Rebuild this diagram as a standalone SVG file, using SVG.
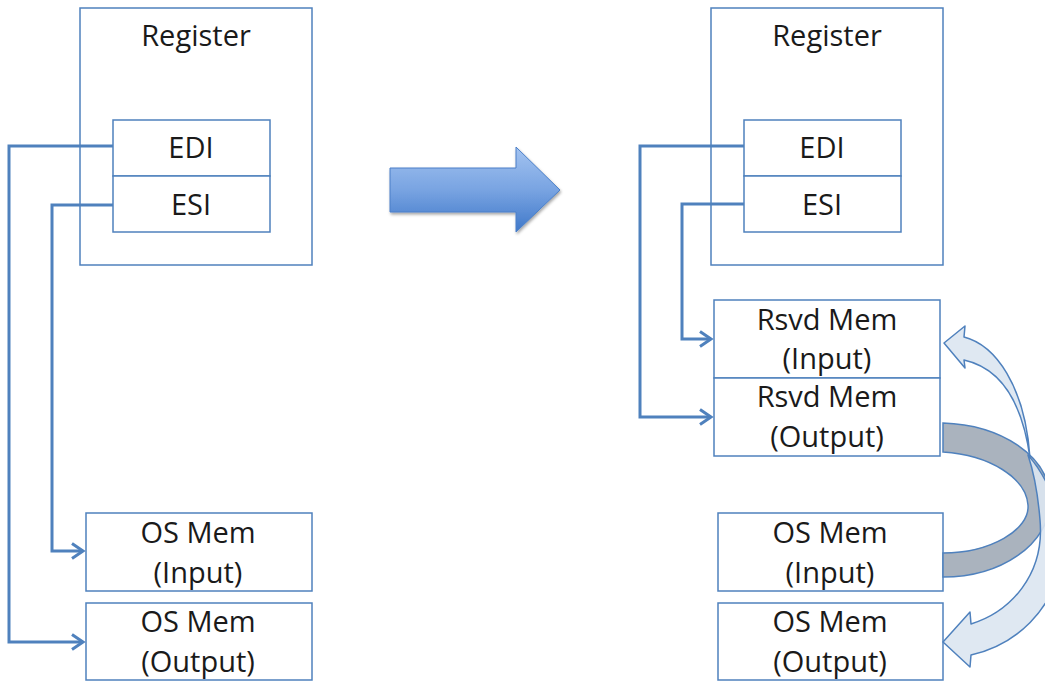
<svg xmlns="http://www.w3.org/2000/svg" width="1045" height="682" viewBox="0 0 1045 682">
  <style>
    .box { fill: #ffffff; stroke: #4f81bd; stroke-width: 1.5; }
    .lbl { font-family: "Open Sans", "Noto Sans", sans-serif; font-size: 29px; fill: #1a1a1a; text-anchor: middle; }
    .wire { fill: none; stroke: #4f81bd; stroke-width: 3; stroke-linejoin: miter; }
    .lite { fill: #dbe5f1; stroke: #4f81bd; stroke-width: 1.5; stroke-linejoin: round; }
    .grey { fill: #aab3be; stroke: #4f81bd; stroke-width: 1.5; }
  </style>
  <defs>
    <marker id="head" markerUnits="userSpaceOnUse" markerWidth="24" markerHeight="24" refX="0" refY="0" viewBox="-14 -12 16 24" orient="auto">
      <path d="M-11,-7.5 L0,0 L-11,7.5" fill="none" stroke="#4f81bd" stroke-width="3"/>
    </marker>
    <linearGradient id="bigArrowFill" x1="0" y1="0" x2="0" y2="1">
      <stop offset="0" stop-color="#a3c3f0"/>
      <stop offset="0.5" stop-color="#79a4e2"/>
      <stop offset="1" stop-color="#3f78c9"/>
    </linearGradient>
    <filter id="soft" x="-10%" y="-10%" width="130%" height="140%">
      <feDropShadow dx="1" dy="2" stdDeviation="1.6" flood-color="#000" flood-opacity="0.35"/>
    </filter>
  </defs>

  <!-- left side: before -->
  <g id="reg-left">
    <rect class="box" x="80" y="8" width="232" height="257"/>
    <text class="lbl" x="196" y="46">Register</text>
  </g>
  <g id="edi-left">
    <rect class="box" x="113" y="120" width="157" height="56"/>
    <text class="lbl" x="191" y="158">EDI</text>
  </g>
  <g id="esi-left">
    <rect class="box" x="113" y="176" width="157" height="56"/>
    <text class="lbl" x="191" y="215">ESI</text>
  </g>
  <g id="osin-left">
    <rect class="box" x="86" y="513" width="226" height="78"/>
    <text class="lbl" x="198" y="543">OS Mem</text>
    <text class="lbl" x="198" y="583">(Input)</text>
  </g>
  <g id="osout-left">
    <rect class="box" x="86" y="603" width="226" height="77"/>
    <text class="lbl" x="198" y="632">OS Mem</text>
    <text class="lbl" x="198" y="672">(Output)</text>
  </g>

  <!-- transition arrow -->
  <g id="transition">
    <path d="M390,168 H516 V147 L560,190 L516,232 V212 H390 Z" fill="url(#bigArrowFill)" stroke="#4a7fc8" stroke-width="1" filter="url(#soft)"/>
  </g>

  <!-- right side: after -->
  <g id="reg-right">
    <rect class="box" x="711" y="8" width="232" height="257"/>
    <text class="lbl" x="827" y="46">Register</text>
  </g>
  <g id="edi-right">
    <rect class="box" x="744" y="120" width="157" height="56"/>
    <text class="lbl" x="822" y="158">EDI</text>
  </g>
  <g id="esi-right">
    <rect class="box" x="744" y="176" width="157" height="56"/>
    <text class="lbl" x="822" y="215">ESI</text>
  </g>
  <g id="rsvdin">
    <rect class="box" x="714" y="300" width="226" height="78"/>
    <text class="lbl" x="827" y="330">Rsvd Mem</text>
    <text class="lbl" x="827" y="369">(Input)</text>
  </g>
  <g id="rsvdout">
    <rect class="box" x="714" y="378" width="226" height="78"/>
    <text class="lbl" x="827" y="407">Rsvd Mem</text>
    <text class="lbl" x="827" y="447">(Output)</text>
  </g>
  <g id="osin-right">
    <rect class="box" x="718" y="513" width="225" height="78"/>
    <text class="lbl" x="830" y="543">OS Mem</text>
    <text class="lbl" x="830" y="583">(Input)</text>
  </g>
  <g id="osout-right">
    <rect class="box" x="718" y="603" width="225" height="77"/>
    <text class="lbl" x="830" y="632">OS Mem</text>
    <text class="lbl" x="830" y="672">(Output)</text>
  </g>

  <!-- pointer connectors -->
  <g id="connectors">
    <path class="wire" d="M113,146 H9 V642 H83" marker-end="url(#head)"/>
    <path class="wire" d="M113,205 H52 V551 H83" marker-end="url(#head)"/>
    <path class="wire" d="M744,146 H640 V417 H711" marker-end="url(#head)"/>
    <path class="wire" d="M744,204 H682 V339 H711" marker-end="url(#head)"/>
  </g>

  <!-- copy flows between reserved and OS memory -->
  <g id="flows">
    <path class="grey" d="M943,423 C1000,425 1050,455 1050,500 C1050,545 1000,577 943,577 L943,553 C990,553 1030,530 1028,505 C1026,478 990,455 943,452 Z"/>
    <path class="lite" fill-opacity="0.9" d="M944,343 L965,326 L964,337 C995,345 1025,385 1030,458 C1022,400 1000,368 964,360 L965,368 Z"/>
    <path class="lite" fill-opacity="0.9" d="M943,642 L970,612 L971,624 C1010,612 1045,575 1040,520 C1038,495 1033,470 1028,455 C1050,480 1065,520 1060,560 C1055,610 1015,645 971,655 L970,667 Z"/>
  </g>
</svg>
